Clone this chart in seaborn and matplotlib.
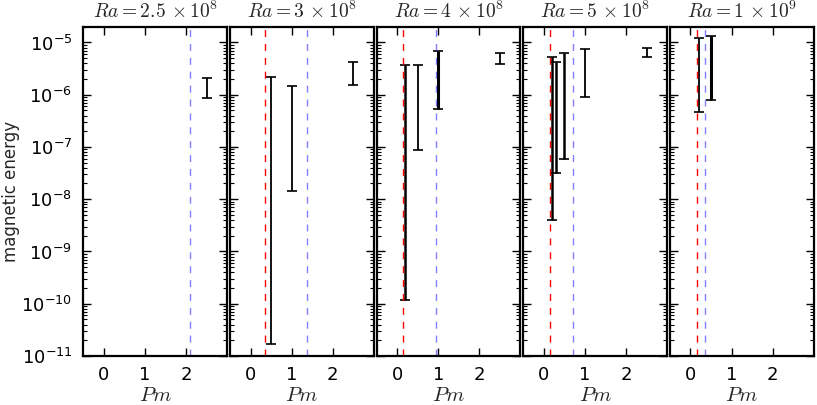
import numpy as np
import pandas as pd
import matplotlib
matplotlib.use("Agg")
import matplotlib.pyplot as plt
import seaborn as sns


# Rayleigh numbers, one panel each
ra_labels = [
    r"$Ra{=}2.5\,\times10^8$",
    r"$Ra{=}3\,\times10^8$",
    r"$Ra{=}4\,\times10^8$",
    r"$Ra{=}5\,\times10^8$",
    r"$Ra{=}1\,\times10^9$",
]

# Pm of each run and the min / max of magnetic energy
pm_runs = [
    [2.5],
    [0.5, 1.0, 2.5],
    [0.2, 0.5, 1.0, 2.5],
    [0.2, 0.3, 0.5, 1.0, 2.5],
    [0.2, 0.5],
]
energy_low = [
    [8.7e-7],
    [1.7e-11, 1.45e-8, 1.55e-6],
    [1.2e-10, 8.7e-8, 5.4e-7, 3.8e-6],
    [4.0e-9, 3.2e-8, 5.8e-8, 8.9e-7, 5.2e-6],
    [4.6e-7, 7.9e-7],
]
energy_high = [
    [2.1e-6],
    [2.2e-6, 1.46e-6, 4.3e-6],
    [3.7e-6, 3.7e-6, 6.9e-6, 6.4e-6],
    [5.3e-6, 4.2e-6, 6.2e-6, 7.5e-6, 7.9e-6],
    [1.2e-5, 1.34e-5],
]
bar_width = [
    [1.3],
    [1.3, 1.3, 1.3],
    [1.8, 1.3, 2.2, 1.3],
    [1.8, 1.8, 1.8, 1.3, 1.3],
    [1.3, 2.2],
]

# critical Pm lines
pm_red = [None, 0.35, 0.15, 0.14, 0.15]
pm_blue = [2.1, 1.38, 0.95, 0.7, 0.36]

rows = []
for label, xs, lo, hi, lw in zip(ra_labels, pm_runs, energy_low, energy_high, bar_width):
    for x, a, b, w in zip(xs, lo, hi, lw):
        rows.append({"Ra": label, "Pm": x, "low": a, "high": b, "lw": w})
df = pd.DataFrame(rows)


def draw_bars(data, **kwargs):
    ax = plt.gca()
    for _, r in data.iterrows():
        mid = np.sqrt(r["low"] * r["high"])
        ax.errorbar(
            r["Pm"],
            mid,
            yerr=[[mid - r["low"]], [r["high"] - mid]],
            fmt="none",
            ecolor="black",
            elinewidth=r["lw"],
            capsize=3.8,
            capthick=1.2,
        )


sns.set_style("ticks", {"xtick.direction": "in", "ytick.direction": "in"})
plt.rcParams["font.family"] = ["DejaVu Sans"]
plt.rcParams["mathtext.fontset"] = "cm"
plt.rcParams["axes.linewidth"] = 1.6
plt.rcParams["axes.edgecolor"] = "black"

g = sns.FacetGrid(
    df,
    col="Ra",
    col_order=ra_labels,
    sharey=True,
    sharex=True,
    height=4.05,
    aspect=8.17 / 4.05 / 5,
    despine=False,
)
g.map_dataframe(draw_bars)
g.figure.set_size_inches(8.17, 4.05)

for i, ax in enumerate(g.axes.flat):
    if pm_red[i] is not None:
        ax.axvline(pm_red[i], color="red", ls="--", lw=1.0, dashes=(5, 5))
    ax.axvline(pm_blue[i], color="blue", alpha=0.5, ls="--", lw=1.0, dashes=(5, 5))
    ax.set_yscale("log")
    ax.set_ylim(1e-11, 2e-5)
    ax.set_xlim(-0.5, 3)
    ax.set_xticks([0, 1, 2])
    ax.set_title(ra_labels[i], fontsize=14, pad=6)
    ax.set_xlabel(r"$Pm$", fontsize=15, labelpad=1)
    ax.tick_params(which="both", top=True, right=True, direction="in", colors="black")
    ax.tick_params(which="major", length=6, width=1, labelsize=13)
    ax.tick_params(axis="x", which="major", pad=7)
    ax.tick_params(axis="y", which="major", pad=8)
    ax.tick_params(which="minor", length=3, width=0.8)
    ax.yaxis.set_minor_locator(matplotlib.ticker.LogLocator(base=10, subs=np.arange(2, 10)))
    ax.yaxis.set_minor_formatter(matplotlib.ticker.NullFormatter())
    if i == 0:
        ax.set_ylabel("magnetic energy", fontsize=12, labelpad=1)
        ax.yaxis.set_major_locator(matplotlib.ticker.LogLocator(base=10, numticks=20))
    else:
        ax.set_ylabel("")
        ax.tick_params(labelleft=False)

g.figure.subplots_adjust(left=0.102, right=0.996, top=0.934, bottom=0.121, wspace=0.02)
g.figure.savefig("out.png", dpi=100)
